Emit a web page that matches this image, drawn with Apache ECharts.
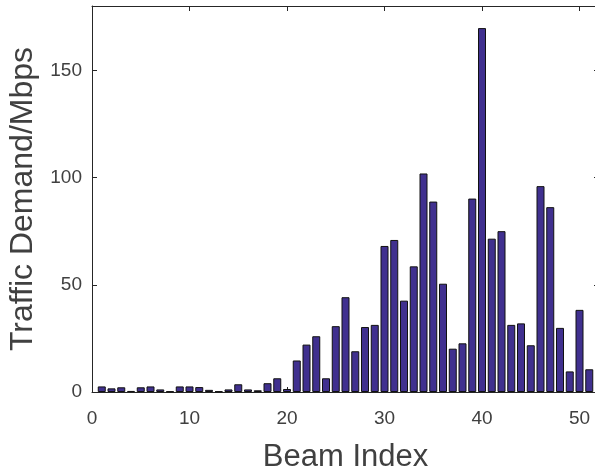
<!DOCTYPE html>
<html>
<head>
<meta charset="utf-8">
<script src="https://cdn.jsdelivr.net/npm/echarts@6/dist/echarts.min.js"></script>
<style>
  html, body { margin: 0; padding: 0; background: #fff; }
  #chart { width: 595px; height: 471px; }
</style>
</head>
<body>
<div id="chart"></div>
<script>
// beam index 1..51
const beams = [1,2,3,4,5,6,7,8,9,10,11,12,13,14,15,16,17,18,19,20,21,22,23,24,25,26,
  27,28,29,30,31,32,33,34,35,36,37,38,39,40,41,42,43,44,45,46,47,48,49,50,51];
const demand = [2.6,1.7,2.2,0.5,2.2,2.6,1.2,0.3,2.6,2.6,2.3,1.0,0.3,1.2,3.6,1.2,0.8,4.1,6.4,1.4,
  14.7,22.1,26.0,6.4,30.7,44.2,19.0,30.3,31.3,68.1,70.9,42.6,58.6,101.9,88.8,50.5,20.2,22.7,90.2,169.7,
  71.5,75.0,31.3,32.0,21.8,96.0,86.2,29.9,9.6,38.3,10.6];
const xTicks = [0, 10, 20, 30, 40, 50];
const yTicks = [0, 50, 100, 150];

let chart = echarts.init(document.getElementById('chart'));

const textColor = '#404040';
const lineColor = '#262626';
const fontFamily = 'Arial, "Liberation Sans", Helvetica, sans-serif';

let barData = beams.map((b, i) => [b, demand[i]]);

// box axes (top / right) only carry inward ticks, like a matlab plot
let boxAxis = {
  type: 'value',
  axisLine: { show: true, onZero: false, lineStyle: { color: lineColor, width: 1 } },
  axisTick: { show: true, inside: true, length: 5, lineStyle: { color: lineColor } },
  axisLabel: { show: false },
  splitLine: { show: false },
};

let option = {
  backgroundColor: '#fff',
  animation: false,
  grid: {
    left: 92,
    top: 6,
    width: 507,
    height: 386,
    containLabel: false,
    outerBoundsMode: 'none',
  },
  xAxis: [
    {
      type: 'value',
      min: 0,
      max: 52,
      interval: 10,
      name: 'Beam Index',
      nameLocation: 'middle',
      nameGap: 50,
      nameTextStyle: { color: textColor, fontSize: 31, fontFamily: fontFamily },
      axisLine: { onZero: false, lineStyle: { color: lineColor, width: 1 } },
      axisTick: { inside: true, length: 5, lineStyle: { color: lineColor } },
      axisLabel: {
        color: textColor,
        fontSize: 19,
        fontFamily: fontFamily,
        margin: 17,
        formatter: v => xTicks.includes(v) ? String(v) : ''
      },
      splitLine: { show: false },
    },
    Object.assign({}, boxAxis, { position: 'top', min: 0, max: 52, interval: 10 })
  ],
  yAxis: [
    {
      type: 'value',
      min: 0,
      max: 180,
      interval: 50,
      name: 'Traffic Demand/Mbps',
      nameLocation: 'middle',
      nameGap: 45,
      nameTextStyle: { color: textColor, fontSize: 32, fontFamily: fontFamily },
      axisLine: { show: true, onZero: false, lineStyle: { color: lineColor, width: 1 } },
      axisTick: { show: true, inside: true, length: 5, lineStyle: { color: lineColor } },
      axisLabel: {
        color: textColor,
        fontSize: 19,
        fontFamily: fontFamily,
        margin: 10,
        formatter: v => yTicks.includes(v) ? String(v) : ''
      },
      splitLine: { show: false },
    },
    Object.assign({}, boxAxis, { position: 'right', min: 0, max: 180, interval: 50 })
  ],
  series: [
    {
      name: 'Traffic Demand',
      type: 'bar',
      xAxisIndex: 0,
      yAxisIndex: 0,
      barWidth: 8,
      itemStyle: {
        color: '#40308f',
        borderColor: '#111',
        borderWidth: 1,
      },
      data: barData,
    }
  ]
};

chart.setOption(option);
</script>
</body>
</html>
